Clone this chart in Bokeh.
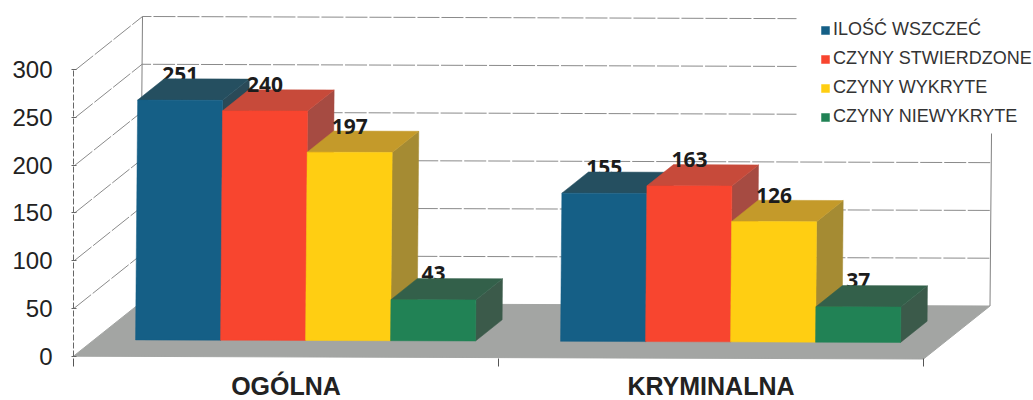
from bokeh.plotting import figure
from bokeh.models import FixedTicker, Legend, LegendItem, BoxAnnotation
from bokeh.core.properties import value
from bokeh.embed import file_html
from bokeh.resources import INLINE

# ---- data ----
categories = ["OGÓLNA", "KRYMINALNA"]
y_ticks = [0, 50, 100, 150, 200, 250, 300]
series_names = ["ILOŚĆ WSZCZEĆ", "CZYNY STWIERDZONE", "CZYNY WYKRYTE", "CZYNY NIEWYKRYTE"]
ilosc_wszczec = [251, 155]
czyny_stwierdzone = [240, 163]
czyny_wykryte = [197, 126]
czyny_niewykryte = [43, 37]
all_series = [ilosc_wszczec, czyny_stwierdzone, czyny_wykryte, czyny_niewykryte]

# ---- style ----
front_cols = ["#155F86", "#F8452F", "#FFCE12", "#218255"]
top_cols = ["#254F60", "#C74A3A", "#C49A2A", "#33604A"]
side_cols = ["#2A4A58", "#A64B42", "#A58B33", "#3B5A4A"]
label_behind = [True, False, False, True]

PX_PER_CAT = 425.0
PX_PER_VAL = 0.9557
LEFT, BOTTOM = 73, 34
W, H = 1033, 400
frame_w, frame_h = W - LEFT, H - BOTTOM
ZERO_PX = 355.7

DX = 66.5 / PX_PER_CAT          # wall depth along x, category units
DY = 53 / PX_PER_VAL            # wall depth along y, value units
SHEAR = (2 / 240) / PX_PER_CAT  # scan skew
TILT = 1.4 / PX_PER_VAL         # scan tilt per category
BAR_W = 0.2
GAP = 0.0975
D0, D1 = 0.31, 0.71             # bar depth span


def proj(c, v, d):
    return c + d * DX + v * SHEAR, v + d * DY - c * TILT


def poly(points):
    pts = [proj(*q) for q in points]
    return [a for a, _ in pts], [b for _, b in pts]


p = figure(
    width=W, height=H, output_backend="svg", toolbar_location=None, tools="",
    x_range=(0, frame_w / PX_PER_CAT),
    y_range=(-(frame_h - ZERO_PX) / PX_PER_VAL, ZERO_PX / PX_PER_VAL),
    min_border_left=LEFT, min_border_right=0, min_border_top=0, min_border_bottom=BOTTOM,
    frame_width=frame_w, frame_height=frame_h,
    outline_line_color=None, background_fill_color="white",
    margin=(0, 0, 0, 0),
)
p.grid.visible = False

ya = p.yaxis[0]
ya.ticker = FixedTicker(ticks=y_ticks)
ya.bounds = (y_ticks[0], y_ticks[-1])
ya.axis_line_color = "#666666"
ya.axis_line_dash = "6 2"
ya.major_tick_line_color = "#666666"
ya.major_tick_in = 3
ya.major_tick_out = 2
ya.minor_tick_line_color = None
ya.major_label_standoff = 19
ya.major_label_text_font = "Liberation Sans"
ya.major_label_text_font_size = "24px"
ya.major_label_text_color = "#222222"

xa = p.xaxis[0]
centers = [i + 0.5 for i in range(len(categories))]
xa.ticker = FixedTicker(ticks=centers, minor_ticks=list(range(len(categories) + 1)))
xa.major_label_overrides = {c: n for c, n in zip(centers, categories)}
xa.axis_line_color = None
xa.major_tick_line_color = None
xa.major_tick_in = 0
xa.major_tick_out = 0
xa.minor_tick_line_color = "#555555"
xa.minor_tick_in = 8
xa.minor_tick_out = 0
xa.major_label_standoff = 5
xa.major_label_text_font = "Liberation Sans"
xa.major_label_text_font_style = "bold"
xa.major_label_text_font_size = "25px"
xa.major_label_text_color = "#222222"

n_cat = len(categories)
# floor
fx, fy = poly([(0, 0, 0), (n_cat, 0, 0), (n_cat, 0, 1), (0, 0, 1)])
p.patch(fx, fy, fill_color="#A3A5A3", line_color="#A3A5A3")

# walls
for v in y_ticks[1:]:
    x, y = poly([(0, v, 0), (0, v, 1), (n_cat, v, 1)])
    p.line(x, y, line_color="#8A8A8A", line_width=1, line_dash="22 2")
for c in (0, n_cat):
    x, y = poly([(c, y_ticks[0], 1), (c, y_ticks[-1], 1)])
    p.line(x, y, line_color="#808080", line_width=1)

# bars, painted from left to right
legend_items = []
for s, vals in enumerate(all_series):
    xs_f, ys_f, xs_t, ys_t, xs_s, ys_s, lx, ly = [], [], [], [], [], [], [], []
    for g, v in enumerate(vals):
        a = g + GAP + s * BAR_W
        b = a + BAR_W
        x, y = poly([(a, 0, D0), (b, 0, D0), (b, v, D0), (a, v, D0)])
        xs_f.append(x); ys_f.append(y)
        x, y = poly([(a, v, D0), (b, v, D0), (b, v, D1), (a, v, D1)])
        xs_t.append(x); ys_t.append(y)
        x, y = poly([(b, 0, D0), (b, 0, D1), (b, v, D1), (b, v, D0)])
        xs_s.append(x); ys_s.append(y)
        cx, cy = proj((a + b) / 2, v, D0)
        lx.append(cx); ly.append(cy)

    def labels():
        p.text(lx, ly, text=[str(v) for v in vals], text_align="center",
               text_baseline="alphabetic", y_offset=-26,
               text_font=value("Open Sans"), text_font_style="bold",
               text_font_size="21px", text_color="#1C1C1C")

    if label_behind[s]:
        labels()
    p.patches(xs_s, ys_s, fill_color=side_cols[s], line_color=side_cols[s], line_width=0.5)
    p.patches(xs_t, ys_t, fill_color=top_cols[s], line_color=top_cols[s], line_width=0.5)
    r = p.patches(xs_f, ys_f, fill_color=front_cols[s], line_color=front_cols[s], line_width=0.5)
    if not label_behind[s]:
        labels()
    legend_items.append(LegendItem(label=series_names[s], renderers=[r]))

# white box of the legend
p.add_layout(BoxAnnotation(left=(796 - LEFT) / PX_PER_CAT, right=frame_w / PX_PER_CAT,
                           bottom=(ZERO_PX - 133) / PX_PER_VAL, top=ZERO_PX / PX_PER_VAL,
                           fill_color="white", fill_alpha=1.0, line_color=None))

legend = Legend(
    items=legend_items, location=(820 - LEFT, frame_h - 127), orientation="vertical",
    background_fill_alpha=0.0, border_line_color=None,
    padding=0, margin=0, spacing=8, label_height=18, glyph_height=10, glyph_width=10,
    label_standoff=3, label_text_font="Liberation Sans", label_text_font_size="18px",
    label_text_color="#333333",
)
p.add_layout(legend)

open("out.html", "w").write(file_html(p, INLINE))
